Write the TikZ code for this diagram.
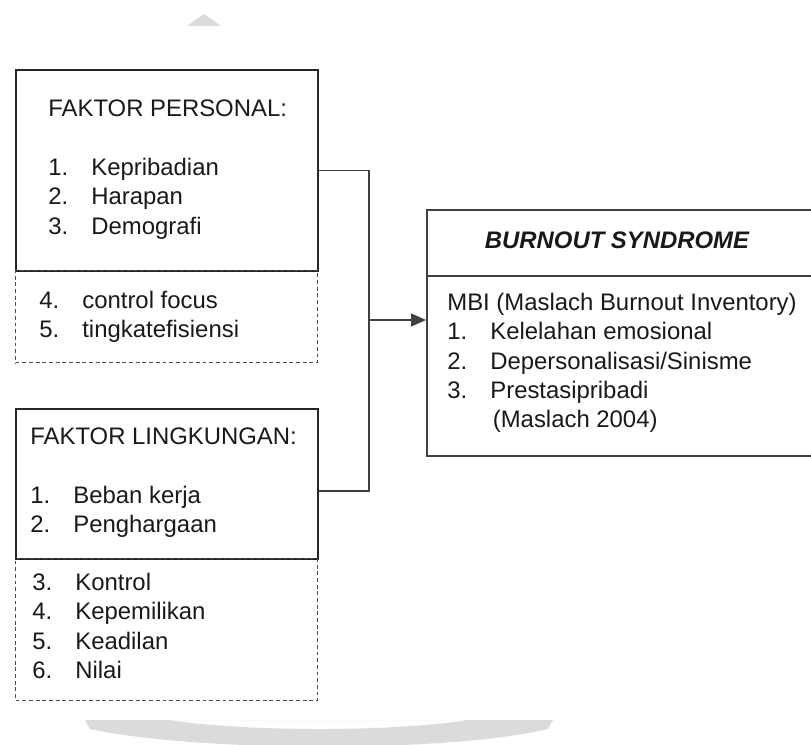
\documentclass[tikz,border=0pt]{standalone}
\usepackage{fontspec}
\setmainfont{Liberation Sans}
\usepackage{tikz}
\usetikzlibrary{positioning,arrows.meta,calc}

\newlength{\numw}
\setlength{\numw}{0.86cm}
\newcommand{\itm}[2]{\makebox[\numw][l]{#1}#2}
\newcommand{\lst}[1]{\begin{tabular}[t]{@{}l@{}}#1\end{tabular}}

\begin{document}
\begin{tikzpicture}[
    solidbox/.style={rectangle, draw=black!85, line width=1.3pt, inner sep=0pt, anchor=north west},
    dashbox/.style={rectangle, draw=black!70, line width=0.7pt, dash pattern=on 2.2pt off 1.6pt, inner sep=0pt, anchor=north west},
    mainbox/.style={rectangle, draw=black!75, line width=1pt, inner sep=0pt, anchor=north west},
    txt/.style={anchor=base west, inner sep=0pt, font=\fontsize{13.6}{16.7}\selectfont, text=black!90},
    line/.style={draw=black!75, line width=0.8pt},
    arrow/.style={line, -{Triangle[length=0.3cm,width=0.26cm]}},
    wmark/.style={fill=black!14, draw=none}
]
\useasboundingbox (0,0) rectangle (16.22,-14.88);

% Watermark
\fill[wmark] (4.08,-0.28) -- (4.42,-0.52) -- (3.74,-0.52) -- cycle;
\fill[wmark, even odd rule] (1.70,-14.40) -- (11.06,-14.40) -- (10.96,-14.58)
    .. controls (9.0,-15.05) and (4.0,-15.05) .. (1.80,-14.58) -- cycle
    (3.36,-14.40) .. controls (5.0,-14.64) and (7.8,-14.64) .. (9.36,-14.40) -- cycle;

% Faktor personal
\node[solidbox, minimum width=6.04cm, minimum height=4.02cm] (personal) at (0.30,-1.38) {};
\node[dashbox, minimum width=6.04cm, minimum height=1.84cm] (personalx) at (0.30,-5.40) {};
\node[txt] (personaltitle) at (0.96,-2.33) {FAKTOR PERSONAL:};
\node[txt] (personallist) at (0.96,-3.51) {\lst{\itm{1.}{Kepribadian}\\ \itm{2.}{Harapan}\\ \itm{3.}{Demografi}}};
\node[txt] (personalmore) at (0.78,-6.17) {\lst{\itm{4.}{control focus}\\ \itm{5.}{tingkatefisiensi}}};

% Faktor lingkungan
\node[solidbox, minimum width=6.04cm, minimum height=3.00cm] (lingkungan) at (0.30,-8.16) {};
\node[dashbox, minimum width=6.04cm, minimum height=2.84cm] (lingkunganx) at (0.30,-11.16) {};
\node[txt] (lingkungantitle) at (0.60,-8.89) {FAKTOR LINGKUNGAN:};
\node[txt] (lingkunganlist) at (0.60,-10.07) {\lst{\itm{1.}{Beban kerja}\\ \itm{2.}{Penghargaan}}};
\node[txt] (lingkunganmore) at (0.64,-11.81) {\lst{\itm{3.}{Kontrol}\\ \itm{4.}{Kepemilikan}\\ \itm{5.}{Keadilan}\\ \itm{6.}{Nilai}}};

% Burnout syndrome
\node[mainbox, minimum width=8.60cm, minimum height=4.92cm] (burnout) at (8.52,-4.18) {};
\draw[line, line width=1pt] (burnout.west |- 0,-5.52) -- (burnout.east |- 0,-5.52);
\node[txt, anchor=base, font=\fontsize{13.6}{16.7}\selectfont\bfseries\itshape] (burnouttitle) at (12.34,-4.97) {BURNOUT SYNDROME};
\node[txt] (burnoutlist) at (8.94,-6.21) {\lst{MBI (Maslach Burnout Inventory)\\ \itm{1.}{Kelelahan emosional}\\ \itm{2.}{Depersonalisasi/Sinisme}\\ \itm{3.}{Prestasipribadi}\\ \itm{}{\hspace{0.05cm}(Maslach 2004)}}};

% Connectors
\coordinate (split) at (7.38,-6.40);
\draw[line] (personal.east) -| (split);
\draw[line] ([yshift=-0.14cm]lingkungan.east) -| (split);
\draw[arrow] (split) -- (burnout.west |- split);

\end{tikzpicture}
\end{document}
